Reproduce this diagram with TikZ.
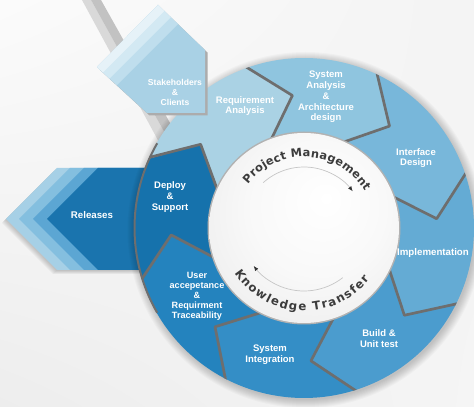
\documentclass[tikz,border=0pt]{standalone}
\usepackage{fontspec}
\setmainfont{Liberation Sans}
\newfontfamily\dvfont{DejaVu Sans}
\usetikzlibrary{decorations.text,arrows.meta,shadings}
\definecolor{cReq}{HTML}{AAD2E4}
\definecolor{cSys}{HTML}{8FC5DF}
\definecolor{cIfc}{HTML}{78B7DA}
\definecolor{cImp}{HTML}{64ABD4}
\definecolor{cBld}{HTML}{4B9CCE}
\definecolor{cInt}{HTML}{348EC6}
\definecolor{cUat}{HTML}{2483BE}
\definecolor{cDep}{HTML}{1672AC}
\definecolor{cRel}{HTML}{1A74AE}
\definecolor{cRelA}{HTML}{A6D0E6}
\definecolor{cRelB}{HTML}{84BFDF}
\definecolor{cRelC}{HTML}{5CA6D3}
\definecolor{cStk}{HTML}{A9D1E5}
\definecolor{cStkA}{HTML}{E6F2F8}
\definecolor{cStkB}{HTML}{D3E9F3}
\definecolor{cStkC}{HTML}{BFDEED}
\definecolor{sepgray}{HTML}{6E6E6E}
\definecolor{arctext}{HTML}{3C3C3C}
\pgfdeclareradialshading{discshade}{\pgfpoint{6bp}{8bp}}{color(0bp)=(white); color(18bp)=(gray!5); color(36bp)=(gray!15); color(45bp)=(gray!32); color(50bp)=(gray!55)}
\tikzset{
  seglabel/.style={text=white, font=\bfseries\fontsize{9.5}{10.8}\selectfont, align=center, inner sep=0pt},
  sepline/.style={draw=sepgray, line width=2.7pt, line join=round},
  cyclearrow/.style={draw=gray!45, line width=0.7pt, -{Latex[length=5pt,width=4pt,color=black!80]}},
}
\newcommand\ringseg[3]{\fill[#3] (#1:170) arc[start angle=#1, end angle=#2, radius=170] -- ({#2-15}:133) -- (#2:95) arc[start angle=#2, end angle=#1, radius=95] -- ({#1-15}:133) -- cycle;}
\begin{document}
\begin{tikzpicture}[x=1pt,y=1pt]
\useasboundingbox (0,0) rectangle (474,407);
% background
\shade[upper left=gray!3, upper right=gray!9, lower left=gray!14, lower right=gray!8] (0,0) rectangle (474,407);
% diagonal bar
\fill[gray!30] (82,407) -- (91,407) -- (177,252) -- (166,252) -- cycle;
\fill[gray!48] (91,407) -- (101,407) -- (188,252) -- (177,252) -- cycle;
% Releases arrow with soft shadow
\foreach \s in {1,2,3,4}
  \fill[black, opacity=0.05] ({6-\s},{188-\s}) -- ({57-\s},{239-\s}) -- (180,{239-\s}) -- (180,{137-\s}) -- ({57-\s},{137-\s}) -- cycle;
\fill[cRelA] (6,188) -- (57,239) -- (180,239) -- (180,137) -- (57,137) -- cycle;
\fill[cRelB] (19,188) -- (70,239) -- (180,239) -- (180,137) -- (70,137) -- cycle;
\fill[cRelC] (33,188) -- (84,239) -- (180,239) -- (180,137) -- (84,137) -- cycle;
\fill[cRel] (47,188) -- (98,239) -- (180,239) -- (180,137) -- (98,137) -- cycle;
% ring
\begin{scope}[shift={(304,179)}]
  \foreach \i in {1,...,9} \fill[black, opacity=0.025] (1.5,-2) circle ({169+\i});
  \ringseg{156}{110}{cReq}
  \ringseg{110}{65}{cSys}
  \ringseg{65}{19}{cIfc}
  \ringseg{19}{-26}{cImp}
  \ringseg{-26}{-72}{cBld}
  \ringseg{-72}{-117}{cInt}
  \ringseg{-117}{-162}{cUat}
  \ringseg{-162}{-204}{cDep}
  \draw[sepgray, line width=2pt] (150:169.5) arc[start angle=150, end angle=210, radius=169.5];
  \begin{scope}
    \clip (0,0) circle (170);
    \foreach \t in {156,110,65,19,-26,-72,-117,-162}
      \draw[sepline] (\t:172) -- ({\t-15}:133) -- (\t:95);
  \end{scope}
  \fill[gray!60] (0,0) circle (96.5);
  \shade[shading=discshade] (0,0) circle (95);
  \path[decorate, decoration={text along path, text align=fit to path, text color=arctext,
      text={|\dvfont\bfseries\fontsize{11.4}{12}\selectfont|Project Management}}]
      (142:71) arc[start angle=142, end angle=31, radius=71];
  \path[decorate, decoration={text along path, text align=fit to path, text color=arctext,
      text={|\dvfont\bfseries\fontsize{11.8}{12}\selectfont|Knowledge Transfer}}]
      (213:83) arc[start angle=213, end angle=322, radius=83];
  \draw[cyclearrow] (132:61) arc[start angle=132, end angle=37, radius=61];
  \draw[cyclearrow] (-52:63) arc[start angle=-52, end angle=-143, radius=63];
\end{scope}
% Stakeholders pentagon
\fill[gray!65] (160.5,399.5) -- (207.5,354.5) -- (207.5,291.5) -- (149.5,291.5) -- (99.5,337.5) -- cycle;
\begin{scope}
  \clip (158,402) -- (205,357) -- (205,294) -- (147,294) -- (97,340) -- cycle;
  \fill[cStk] (90,280) rectangle (215,410);
  \begin{scope}[shift={(97,340)}, rotate=45]
    \fill[cStkC] (-20,10) rectangle (110,-27);
    \fill[cStkB] (-20,10) rectangle (110,-17);
    \fill[cStkA] (-20,10) rectangle (110,-8);
  \end{scope}
\end{scope}
% labels
\node[seglabel, font=\bfseries\fontsize{8.6}{10}\selectfont] (stake) at (175,315) {Stakeholders\\\&\\Clients};
\node[seglabel] (req) at (245,301) {Requirement\\Analysis};
\node[seglabel] (sys) at (326,310) {System\\Analysis\\\&\\Architecture\\design};
\node[seglabel] (ifc) at (416,249) {Interface\\Design};
\node[seglabel, font=\bfseries\fontsize{9.7}{10.5}\selectfont] (impl) at (433,154) {Implementation};
\node[seglabel] (build) at (379,68) {Build \&\\Unit test};
\node[seglabel] (sint) at (270,52) {System\\Integration};
\node[seglabel, font=\bfseries\fontsize{9.1}{10}\selectfont] (uat) at (197,111) {User\\accepetance\\\&\\Requirment\\Traceability};
\node[seglabel] (dep) at (170,210) {Deploy\\\&\\Support};
\node[seglabel, font=\bfseries\fontsize{9.7}{10.5}\selectfont] (rel) at (92,192) {Releases};
\end{tikzpicture}
\end{document}
